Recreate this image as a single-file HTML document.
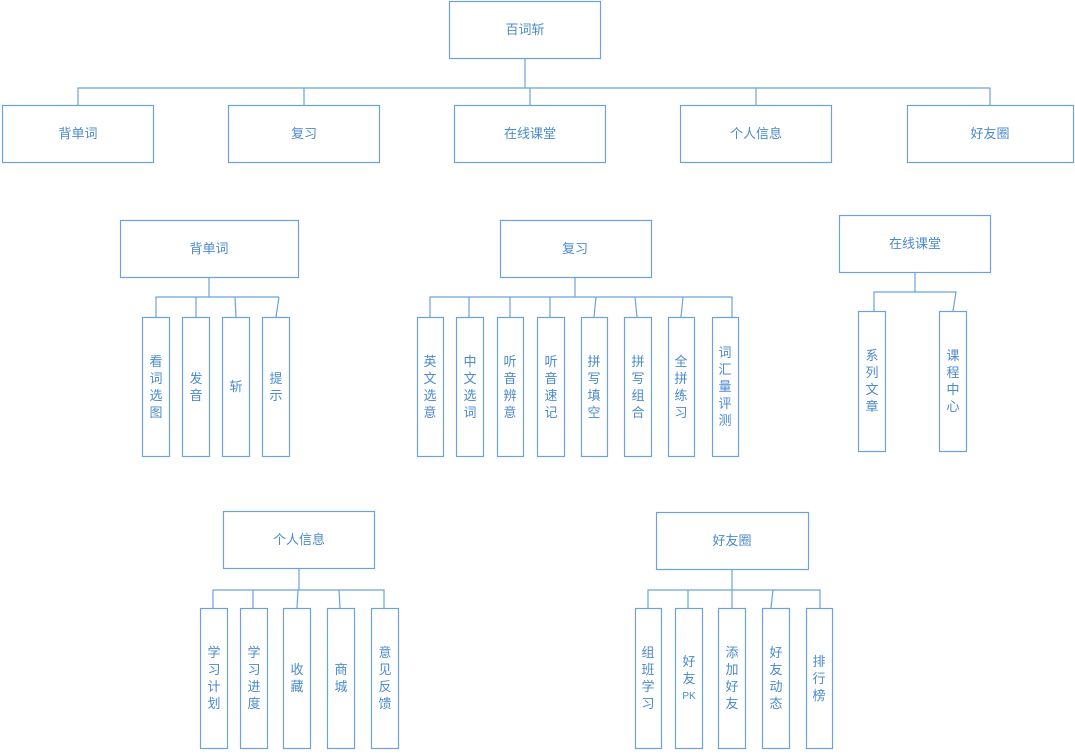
<!DOCTYPE html>
<html><head><meta charset="utf-8"><style>
html,body{margin:0;padding:0;background:#fff;}
svg text{font-family:"Liberation Sans","Noto Sans CJK SC",sans-serif;font-size:13px;fill:#4a8ad0;text-anchor:middle;}
</style></head><body>
<svg width="1075" height="750" viewBox="0 0 1075 750" xmlns="http://www.w3.org/2000/svg">
<g fill="#fff" stroke="#6aa3dc" stroke-width="1.2">
<rect x="449.5" y="1.5" width="151" height="57"/>
<rect x="2.5" y="105.5" width="151" height="57"/>
<rect x="228.5" y="105.5" width="151" height="57"/>
<rect x="454.5" y="105.5" width="151" height="57"/>
<rect x="680.5" y="105.5" width="151" height="57"/>
<rect x="907.5" y="105.5" width="166" height="57"/>
<rect x="120.5" y="220.5" width="178" height="57"/>
<rect x="500.5" y="220.5" width="151" height="57"/>
<rect x="839.5" y="215.5" width="151" height="57"/>
<rect x="223.5" y="511.5" width="151" height="57"/>
<rect x="656.5" y="512.5" width="152" height="57"/>
</g>
<g fill="none" stroke="#6aa3dc" stroke-width="1.2">
<path d="M525 58V88M78 105V88H990V105M304 88V105M530 88V105M756 88V105"/>
<path d="M209 277V297M156 317V297H279M196 297V317M235 297L236 317M279 297L276 317"/>
<path d="M575 277V297M430 317V297H732V317M469 297V317M510 297V317M550 297V317M596 297L594 317M635 297L637 317M683 297L681 317"/>
<path d="M915 272V292M874 311V292H956L953 311"/>
<path d="M299 568V590M213 608V590H384L384 608M253 590V608M298 590L297 608M339 590L340 608"/>
<path d="M732 569V590M648 608V590H820V608M688 590V608M732 590V608M773 590L771 608"/>
</g>
<g fill="#fff" stroke="#6aa3dc" stroke-width="1.2">
<rect x="142.5" y="317.5" width="27" height="139"/>
<rect x="182.5" y="317.5" width="27" height="139"/>
<rect x="222.5" y="317.5" width="27" height="139"/>
<rect x="262.5" y="317.5" width="27" height="139"/>
<rect x="417.5" y="317.5" width="26" height="139"/>
<rect x="456.5" y="317.5" width="27" height="139"/>
<rect x="497.5" y="317.5" width="26" height="139"/>
<rect x="537.5" y="317.5" width="27" height="139"/>
<rect x="581.5" y="317.5" width="26" height="139"/>
<rect x="624.5" y="317.5" width="27" height="139"/>
<rect x="668.5" y="317.5" width="26" height="139"/>
<rect x="712.5" y="317.5" width="26" height="139"/>
<rect x="858.5" y="311.5" width="27" height="140"/>
<rect x="939.5" y="311.5" width="27" height="140"/>
<rect x="200.5" y="608.5" width="27" height="140"/>
<rect x="240.5" y="608.5" width="27" height="140"/>
<rect x="283.5" y="608.5" width="27" height="140"/>
<rect x="327.5" y="608.5" width="27" height="140"/>
<rect x="371.5" y="608.5" width="27" height="140"/>
<rect x="635.5" y="608.5" width="26" height="140"/>
<rect x="675.5" y="608.5" width="27" height="140"/>
<rect x="718.5" y="608.5" width="27" height="140"/>
<rect x="762.5" y="608.5" width="27" height="140"/>
<rect x="806.5" y="608.5" width="26" height="140"/>
</g>
<text x="525" y="34">百词斩</text>
<text x="78" y="138">背单词</text>
<text x="304" y="138">复习</text>
<text x="530" y="138">在线课堂</text>
<text x="756" y="138">个人信息</text>
<text x="990" y="138">好友圈</text>
<text x="209" y="253">背单词</text>
<text x="575" y="253">复习</text>
<text x="915" y="248">在线课堂</text>
<text x="299" y="544">个人信息</text>
<text x="732" y="545">好友圈</text>
<!-- vertical labels -->
<text x="156" y="366">看</text><text x="156" y="383">词</text><text x="156" y="400">选</text><text x="156" y="417">图</text>
<text x="196" y="383">发</text><text x="196" y="400">音</text>
<text x="236" y="391">斩</text>
<text x="276" y="383">提</text><text x="276" y="400">示</text>
<text x="430" y="366">英</text><text x="430" y="383">文</text><text x="430" y="400">选</text><text x="430" y="417">意</text>
<text x="470" y="366">中</text><text x="470" y="383">文</text><text x="470" y="400">选</text><text x="470" y="417">词</text>
<text x="510" y="366">听</text><text x="510" y="383">音</text><text x="510" y="400">辨</text><text x="510" y="417">意</text>
<text x="551" y="366">听</text><text x="551" y="383">音</text><text x="551" y="400">速</text><text x="551" y="417">记</text>
<text x="594" y="366">拼</text><text x="594" y="383">写</text><text x="594" y="400">填</text><text x="594" y="417">空</text>
<text x="638" y="366">拼</text><text x="638" y="383">写</text><text x="638" y="400">组</text><text x="638" y="417">合</text>
<text x="681" y="366">全</text><text x="681" y="383">拼</text><text x="681" y="400">练</text><text x="681" y="417">习</text>
<text x="725" y="357">词</text><text x="725" y="374">汇</text><text x="725" y="391">量</text><text x="725" y="408">评</text><text x="725" y="425">测</text>
<text x="872" y="360">系</text><text x="872" y="377">列</text><text x="872" y="394">文</text><text x="872" y="411">章</text>
<text x="953" y="360">课</text><text x="953" y="377">程</text><text x="953" y="394">中</text><text x="953" y="411">心</text>
<text x="214" y="657">学</text><text x="214" y="674">习</text><text x="214" y="691">计</text><text x="214" y="708">划</text>
<text x="254" y="657">学</text><text x="254" y="674">习</text><text x="254" y="691">进</text><text x="254" y="708">度</text>
<text x="297" y="674">收</text><text x="297" y="691">藏</text>
<text x="341" y="674">商</text><text x="341" y="691">城</text>
<text x="385" y="657">意</text><text x="385" y="674">见</text><text x="385" y="691">反</text><text x="385" y="708">馈</text>
<text x="648" y="657">组</text><text x="648" y="674">班</text><text x="648" y="691">学</text><text x="648" y="708">习</text>
<text x="689" y="666">好</text><text x="689" y="683">友</text><text x="689" y="699" style="font-size:10px">PK</text>
<text x="732" y="657">添</text><text x="732" y="674">加</text><text x="732" y="691">好</text><text x="732" y="708">友</text>
<text x="776" y="657">好</text><text x="776" y="674">友</text><text x="776" y="691">动</text><text x="776" y="708">态</text>
<text x="819" y="666">排</text><text x="819" y="683">行</text><text x="819" y="700">榜</text>
</svg>
</body></html>
